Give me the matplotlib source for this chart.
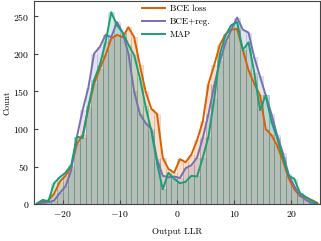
import matplotlib
matplotlib.use("Agg")
import matplotlib.pyplot as plt
import numpy as np

plt.rcParams["font.family"] = "cmr10"
plt.rcParams["mathtext.fontset"] = "cm"
plt.rcParams["axes.formatter.use_mathtext"] = True

# bin centres of the output LLR histogram (width 1)
llr = np.arange(-24.5, 25.0, 1.0)

bce_loss = [1, 4, 5, 14, 30, 38, 50, 80, 92, 128,
            160, 180, 198, 220, 225, 222, 235, 222, 185, 150,
            127, 120, 62, 47, 42, 60, 56, 66, 85, 110,
            160, 185, 212, 226, 232, 233, 205, 178, 160, 145,
            100, 92, 78, 58, 35, 20, 11, 9, 6, 2]
bce_reg = [0, 2, 3, 5, 15, 24, 45, 90, 125, 155,
           200, 209, 225, 222, 242, 228, 200, 150, 120, 108,
           100, 60, 38, 36, 37, 35, 48, 52, 62, 88,
           120, 158, 190, 215, 232, 248, 232, 228, 195, 170,
           145, 120, 92, 68, 40, 24, 12, 6, 2, 0]
map_est = [1, 6, 4, 28, 36, 42, 52, 90, 88, 130,
           165, 185, 215, 255, 238, 228, 212, 198, 168, 130,
           98, 55, 20, 42, 34, 28, 30, 38, 37, 62,
           90, 140, 200, 225, 238, 242, 205, 215, 175, 125,
           145, 110, 88, 63, 38, 34, 15, 10, 5, 1]

labels = ["BCE loss", "BCE+reg.", "MAP"]
colors = ["#d95f02", "#7570b3", "#1b9e77"]
series = [bce_loss, bce_reg, map_est]

fig = plt.figure(figsize=(3.21, 2.41), dpi=100)
ax = fig.add_axes([0.106, 0.152, 0.891, 0.844])

for vals, c in zip(series, colors):
    ax.bar(llr, vals, width=1.0, color=c, alpha=0.2, edgecolor=c, linewidth=0.6)
for vals, c, lab in zip(series, colors, labels):
    ax.plot(llr, vals, color=c, lw=1.4, label=lab)

ax.set_xlim(-25, 25)
ax.set_ylim(0, 270)
ax.set_xticks([-20, -10, 0, 10, 20])
ax.set_yticks([0, 50, 100, 150, 200, 250])
ax.tick_params(direction="in", length=3, labelsize=7, colors="#444444", labelcolor="black")
for s in ax.spines.values():
    s.set_color("#444444")
ax.set_xlabel("Output LLR", fontsize=6.5, labelpad=6)
ax.set_ylabel("Count", fontsize=6.5, labelpad=1)
ax.legend(loc="upper left", bbox_to_anchor=(0.378, 0.98), frameon=False,
          fontsize=6.5, handlelength=2.5, handletextpad=0.55, labelspacing=0.5,
          borderpad=0, borderaxespad=0)

fig.savefig("out.png", dpi=100)
